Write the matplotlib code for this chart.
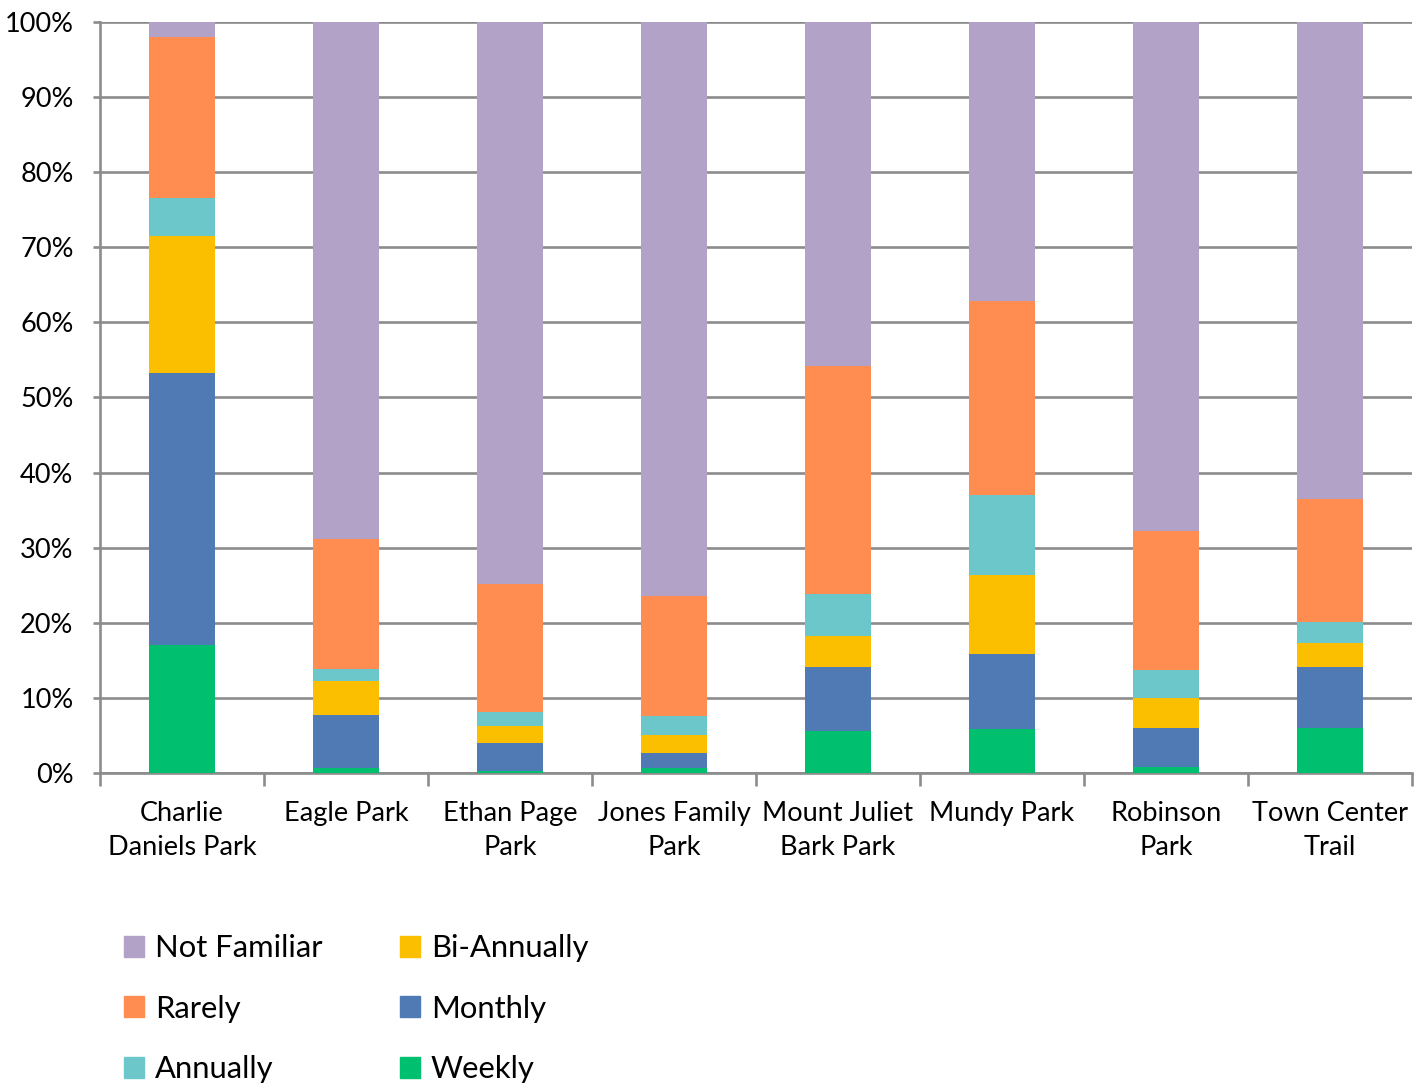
import numpy as np
import matplotlib
matplotlib.use('Agg')
import matplotlib.pyplot as plt
from matplotlib.patches import Patch

# Park familiarity / visit frequency, percent of respondents
parks = ['Charlie\nDaniels Park', 'Eagle Park', 'Ethan Page\nPark', 'Jones Family\nPark',
         'Mount Juliet\nBark Park', 'Mundy Park', 'Robinson\nPark', 'Town Center\nTrail']

weekly = [17.0, 0.7, 0.2, 0.7, 5.6, 5.8, 0.8, 6.0]
monthly = [36.3, 7.0, 3.8, 2.0, 8.5, 10.0, 5.2, 8.1]
bi_annually = [18.2, 4.5, 2.3, 2.4, 4.1, 10.6, 4.0, 3.2]
annually = [5.1, 1.7, 1.8, 2.5, 5.6, 10.6, 3.7, 2.8]
rarely = [21.4, 17.3, 17.1, 16.0, 30.4, 25.8, 18.5, 16.4]

series = [
    ('Weekly', weekly, '#00BF6F'),
    ('Monthly', monthly, '#4F7AB3'),
    ('Bi-Annually', bi_annually, '#FBBF00'),
    ('Annually', annually, '#6CC7CB'),
    ('Rarely', rarely, '#FF8C50'),
]

fig = plt.figure(figsize=(14.24, 10.85), dpi=100)
ax = fig.add_axes([0.0702, 0.2876, 0.9214, 0.6921])

x = np.arange(len(parks))
bottom = np.zeros(len(parks))
handles = {}
for name, vals, color in series:
    vals = np.array(vals)
    ax.bar(x, vals, width=0.40, bottom=bottom, color=color, zorder=3)
    handles[name] = Patch(color=color)
    bottom += vals

# Not Familiar fills the rest up to 100%
not_familiar = 100 - bottom
ax.bar(x, not_familiar, width=0.40, bottom=bottom, color='#B3A2C7', zorder=3)
handles['Not Familiar'] = Patch(color='#B3A2C7')

grid_c = '#8C8C8C'
ax.set_xlim(-0.5, len(parks) - 0.5)
ax.set_ylim(0, 100)
ax.set_yticks(np.arange(0, 101, 10))
ax.set_yticklabels([f'{v}%' for v in range(0, 101, 10)], fontsize=19.5, family='Lato')
ax.yaxis.grid(True, color=grid_c, linewidth=1.9, zorder=0)
ax.tick_params(axis='y', length=5, width=1.9, color=grid_c, pad=14)

ax.set_xticks(x)
ax.set_xticklabels(parks, fontsize=19.5, family='Lato', linespacing=1.45)
ax.set_xticks(np.arange(-0.5, len(parks)), minor=True)
ax.tick_params(axis='x', which='major', length=0, pad=20)
ax.tick_params(axis='x', which='minor', length=9, width=1.9, color=grid_c)

for s in ['top', 'right']:
    ax.spines[s].set_visible(False)
for s in ['left', 'bottom']:
    ax.spines[s].set_color(grid_c)
    ax.spines[s].set_linewidth(1.9)

order = ['Not Familiar', 'Rarely', 'Annually', 'Bi-Annually', 'Monthly', 'Weekly']
fig.legend([handles[k] for k in order], order, loc='upper left',
           bbox_to_anchor=(0.087, 0.139), bbox_transform=fig.transFigure,
           ncol=2, frameon=False, prop={'family': 'Lato', 'size': 22.3},
           handlelength=0.65, handleheight=0.65, handletextpad=0.35,
           columnspacing=2.5, labelspacing=1.05, borderpad=0, borderaxespad=0)

plt.savefig('out.png', dpi=100)
